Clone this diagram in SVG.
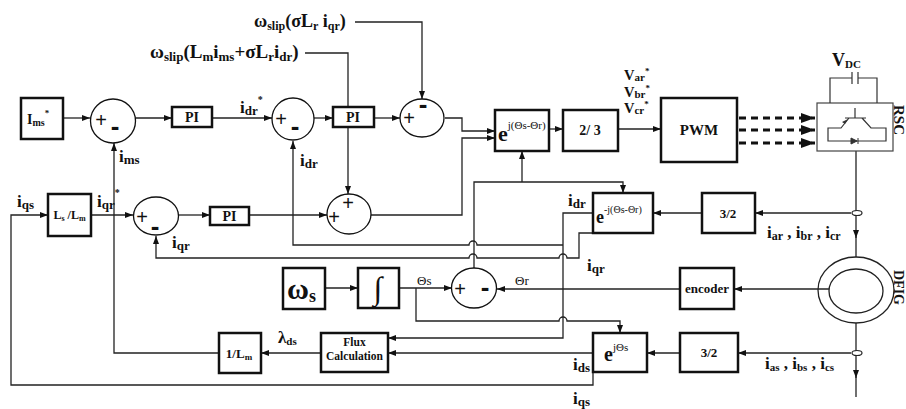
<svg xmlns="http://www.w3.org/2000/svg" width="906" height="409" viewBox="0 0 906 409">
<style>
.t{font-family:"Liberation Serif","DejaVu Serif",serif;font-weight:bold;fill:#111}
.n{font-weight:normal}
.box{fill:#fff;stroke:#111;stroke-width:2.5}
.sum{fill:#fff;stroke:#111;stroke-width:1.3}
.ln{fill:none;stroke:#222;stroke-width:1.3}
.a{marker-end:url(#ah)}
.pl{font-family:"Liberation Sans",sans-serif;font-size:20px;fill:#111;text-anchor:middle}
.mn{font-family:"Liberation Sans",sans-serif;font-size:26px;font-weight:bold;fill:#111;text-anchor:middle}
.dash{fill:none;stroke:#111;stroke-width:3;stroke-dasharray:7 5;marker-end:url(#big)}
.thin{fill:none;stroke:#333;stroke-width:1.2}
</style>
<defs>
<marker id="ah" viewBox="0 0 8 6" refX="8" refY="3" markerWidth="8" markerHeight="6" markerUnits="userSpaceOnUse" orient="auto"><path d="M0,0 L8,3 L0,6 z" fill="#111"/></marker>
<marker id="big" viewBox="0 0 14 10" refX="14" refY="5" markerWidth="14" markerHeight="10" markerUnits="userSpaceOnUse" orient="auto"><path d="M0,0 L14,5 L0,10 z" fill="#111"/></marker>
</defs>
<rect width="906" height="409" fill="#fff"/>

<g id="connectors">
<path class="ln a" d="M63,118 H90"/>
<path class="ln a" d="M136,118 H172"/>
<path class="ln a" d="M212,118 H272"/>
<path class="ln a" d="M314,118 H333"/>
<path class="ln a" d="M374,118 H400"/>
<path class="ln a" d="M445,118 H462 V131 H495"/>
<path class="ln a" d="M355,22 H422 V99"/>
<path class="ln a" d="M305,53 H348 V194"/>
<path class="ln a" d="M371,215 H462 V138 H495"/>
<path class="ln a" d="M549,129 H563"/>
<path class="ln a" d="M618,129 H661"/>
<path class="dash" d="M739,118 H815"/>
<path class="dash" d="M739,130 H815"/>
<path class="dash" d="M739,143 H815"/>
<path class="ln a" d="M856,151 V238"/>
<path class="ln" d="M856,236 V257"/>
<path class="ln a" d="M851,213 H755"/>
<path class="ln a" d="M702,213 H653"/>
<path class="ln a" d="M593,213 H563 V338 H388"/>
<path class="ln a" d="M563,245 H477 a4,4 0 0 0 -8,0 H293 V141"/>
<path class="ln a" d="M593,233 H579 V258 H567 a4,4 0 0 0 -8,0 H477 a4,4 0 0 0 -8,0 H156 V236"/>
<path class="ln a" d="M474,268 V182 H623 V193"/>
<path class="ln a" d="M522,182 V151"/>
<path class="ln a" d="M325,288 H358"/>
<path class="ln a" d="M399,288 H452"/>
<path class="ln a" d="M416,288 V321 H559 a4,4 0 0 1 8,0 H620 V333"/>
<path class="ln a" d="M680,289 H497"/>
<path class="ln a" d="M829,289 H734"/>
<path class="ln a" d="M856,323 V378"/>
<path class="ln" d="M856,376 V397"/>
<path class="ln a" d="M851,353 H738"/>
<path class="ln a" d="M680,353 H647"/>
<path class="ln a" d="M593,353 H388"/>
<path class="ln a" d="M321,353 H261"/>
<path class="ln a" d="M219,353 H114 V143"/>
<path class="ln a" d="M593,372 V385 H11 V215 H48"/>
<path class="ln a" d="M91,215 H133"/>
<path class="ln a" d="M178,215 H210"/>
<path class="ln a" d="M249,215 H327"/>
<ellipse cx="857" cy="213" rx="5" ry="2.5" fill="#fff" stroke="#222" stroke-width="1.2"/>
<ellipse cx="857" cy="353" rx="5" ry="2.5" fill="#fff" stroke="#222" stroke-width="1.2"/>
</g>

<g id="n-ims"><rect class="box" x="21" y="98" width="42" height="41"/>
<text class="t" x="27" y="124" font-size="14">I<tspan font-size="10" dy="2">ms</tspan><tspan font-size="9" dy="-10">*</tspan></text></g>
<g id="n-sum1"><ellipse class="sum" cx="113" cy="121" rx="22.5" ry="22"/><text class="pl" x="101" y="127">+</text><text class="mn" x="115" y="135">-</text></g>
<g id="n-pi1"><rect class="box" x="172" y="107" width="40" height="20"/><text class="t" x="192" y="122" font-size="14" text-anchor="middle">PI</text></g>
<g id="n-sum2"><ellipse class="sum" cx="293" cy="119" rx="21" ry="21"/><text class="pl" x="281" y="126">+</text><text class="mn" x="295" y="135">-</text></g>
<g id="n-pi2"><rect class="box" x="333" y="107" width="41" height="20"/><text class="t" x="353" y="122" font-size="14" text-anchor="middle">PI</text></g>
<g id="n-sum3"><ellipse class="sum" cx="422" cy="118" rx="22" ry="19"/><text class="pl" x="409" y="125">+</text><text class="mn" x="423" y="113">-</text></g>
<g id="n-ejt"><rect class="box" x="495" y="110" width="54" height="41"/><text class="t" x="498" y="141" font-size="22">e<tspan class="n" font-size="11" dy="-12">j(Θs-Θr)</tspan></text></g>
<g id="n-23"><rect class="box" x="563" y="110" width="55" height="41"/><text class="t" x="590" y="135" font-size="14" text-anchor="middle">2/ 3</text></g>
<g id="n-pwm"><rect class="box" x="661" y="98" width="76" height="64"/><text class="t" x="699" y="135" font-size="15" text-anchor="middle">PWM</text></g>
<g id="n-rsc">
<rect x="817" y="103" width="76" height="48" fill="#fff" stroke="#444" stroke-width="1.2"/>
<path class="thin" d="M830,103 V78 H852 M858,78 H877 V103 M852,72 V84 M858,72 V84"/>
<path class="thin" d="M855,108 V118 M845,118 H866 M849,118 L841,128 H828 V141 H886 V128 H871 L862,118"/>
<path d="M842,122 L848,119 L845,124 z" fill="#333"/>
<path d="M851,138 L857,141 L851,144 z M858,138 V144" fill="#333" stroke="#333" stroke-width="1"/>
<text class="t" x="832" y="66" font-size="18">V<tspan font-size="11" dy="2">DC</tspan></text>
<text class="t" x="894" y="105" font-size="15" transform="rotate(90 894 105)">RSC</text>
</g>
<g id="n-dfig">
<ellipse cx="856" cy="290" rx="38" ry="33" fill="none" stroke="#222" stroke-width="1.3"/>
<ellipse cx="856" cy="291" rx="27" ry="22" fill="none" stroke="#222" stroke-width="1.3"/>
<text class="t" x="894" y="270" font-size="14" transform="rotate(90 894 270)">DFIG</text>
</g>
<g id="n-32u"><rect class="box" x="702" y="193" width="53" height="40"/><text class="t" x="728" y="218" font-size="13" text-anchor="middle">3/2</text></g>
<g id="n-emj"><rect class="box" x="593" y="193" width="60" height="40"/><text class="t" x="596" y="223" font-size="18">e<tspan class="n" font-size="10" dy="-10">-j(Θs-Θr)</tspan></text></g>
<g id="n-enc"><rect class="box" x="680" y="268" width="54" height="41"/><text class="t" x="707" y="293" font-size="13" text-anchor="middle">encoder</text></g>
<g id="n-32l"><rect class="box" x="680" y="333" width="58" height="39"/><text class="t" x="709" y="357" font-size="13" text-anchor="middle">3/2</text></g>
<g id="n-ejs"><rect class="box" x="593" y="333" width="54" height="39"/><text class="t" x="604" y="361" font-size="20">e<tspan class="n" font-size="11" dy="-10">jΘs</tspan></text></g>
<g id="n-flux"><rect class="box" x="321" y="333" width="67" height="39"/><text class="t" x="354.5" y="346" font-size="11.5" text-anchor="middle">Flux</text><text class="t" x="354.5" y="360" font-size="11.5" text-anchor="middle">Calculation</text></g>
<g id="n-1lm"><rect class="box" x="219" y="333" width="42" height="40"/><text class="t" x="239" y="358" font-size="13" text-anchor="middle">1/L<tspan font-size="9" dy="2">m</tspan></text></g>
<g id="n-lsm"><rect class="box" x="48" y="194" width="43" height="42"/><text class="t" x="69.5" y="219" font-size="12" text-anchor="middle">L<tspan font-size="8" dy="2">s</tspan><tspan dy="-2"> /L</tspan><tspan font-size="8" dy="2">m</tspan></text></g>
<g id="n-sumq"><ellipse class="sum" cx="156" cy="216" rx="22.5" ry="19"/><text class="pl" x="142" y="224">+</text><text class="mn" x="155" y="235">-</text></g>
<g id="n-pi3"><rect class="box" x="210" y="207" width="39" height="18"/><text class="t" x="229.5" y="221" font-size="14" text-anchor="middle">PI</text></g>
<g id="n-sum4"><ellipse class="sum" cx="349" cy="214" rx="22" ry="20"/><text class="pl" x="348" y="210">+</text><text class="pl" x="334" y="224">+</text></g>
<g id="n-ws"><rect class="box" x="283" y="268" width="42" height="41"/><text class="t" x="287" y="299" font-size="30">ω<tspan font-size="18" dy="3">s</tspan></text></g>
<g id="n-int"><rect class="box" x="358" y="268" width="41" height="40"/><text class="t" x="378" y="299" font-size="32" text-anchor="middle">∫</text></g>
<g id="n-sum5"><ellipse class="sum" cx="474" cy="288" rx="22.5" ry="20"/><text class="pl" x="460" y="296">+</text><text class="mn" x="485" y="296">-</text></g>

<g id="labels" class="t">
<text x="254" y="27" font-size="18">ω<tspan font-size="12" dy="3">slip</tspan><tspan dy="-3">(σL</tspan><tspan font-size="12" dy="3">r</tspan><tspan dy="-3"> i</tspan><tspan font-size="12" dy="3">qr</tspan><tspan dy="-3">)</tspan></text>
<text x="150" y="58" font-size="19">ω<tspan font-size="13" dy="3">slip</tspan><tspan dy="-3">(L</tspan><tspan font-size="13" dy="3">m</tspan><tspan dy="-3">i</tspan><tspan font-size="13" dy="3">ms</tspan><tspan dy="-3">+σL</tspan><tspan font-size="13" dy="3">r</tspan><tspan dy="-3">i</tspan><tspan font-size="13" dy="3">dr</tspan><tspan dy="-3">)</tspan></text>
<text x="240" y="113" font-size="17">i<tspan font-size="13" dy="2">dr</tspan><tspan font-size="10" dy="-12">*</tspan></text>
<text x="119" y="162" font-size="17">i<tspan font-size="13" dy="2">ms</tspan></text>
<text x="300" y="166" font-size="17">i<tspan font-size="13" dy="2">dr</tspan></text>
<text x="17" y="207" font-size="17">i<tspan font-size="13" dy="2">qs</tspan></text>
<text x="97" y="207" font-size="17">i<tspan font-size="13" dy="2">qr</tspan><tspan font-size="10" dy="-13">*</tspan></text>
<text x="172" y="248" font-size="17">i<tspan font-size="13" dy="2">qr</tspan></text>
<text x="568" y="206" font-size="17">i<tspan font-size="13" dy="2">dr</tspan></text>
<text x="587" y="271" font-size="17">i<tspan font-size="13" dy="2">qr</tspan></text>
<text x="624" y="80" font-size="14.5">V<tspan font-size="11" dy="1">ar</tspan><tspan font-size="9" dy="-7">*</tspan></text>
<text x="624" y="96.5" font-size="14.5">V<tspan font-size="11" dy="1">br</tspan><tspan font-size="9" dy="-7">*</tspan></text>
<text x="624" y="113" font-size="14.5">V<tspan font-size="11" dy="1">cr</tspan><tspan font-size="9" dy="-7">*</tspan></text>
<text x="767" y="238" font-size="17">i<tspan font-size="12" dy="2">ar</tspan><tspan dy="-2"> , i</tspan><tspan font-size="12" dy="2">br</tspan><tspan dy="-2"> , i</tspan><tspan font-size="12" dy="2">cr</tspan></text>
<text x="765" y="369" font-size="17">i<tspan font-size="11" dy="2">as</tspan><tspan dy="-2"> , i</tspan><tspan font-size="11" dy="2">bs</tspan><tspan dy="-2"> , i</tspan><tspan font-size="11" dy="2">cs</tspan></text>
<text x="417" y="285" font-size="13" class="n">Θs</text>
<text x="515" y="285" font-size="13" class="n">Θr</text>
<text x="278" y="343" font-size="17">λ<tspan font-size="11" dy="2">ds</tspan></text>
<text x="573" y="370" font-size="17">i<tspan font-size="13" dy="2">ds</tspan></text>
<text x="573" y="404" font-size="17">i<tspan font-size="13" dy="2">qs</tspan></text>
</g>
</svg>
